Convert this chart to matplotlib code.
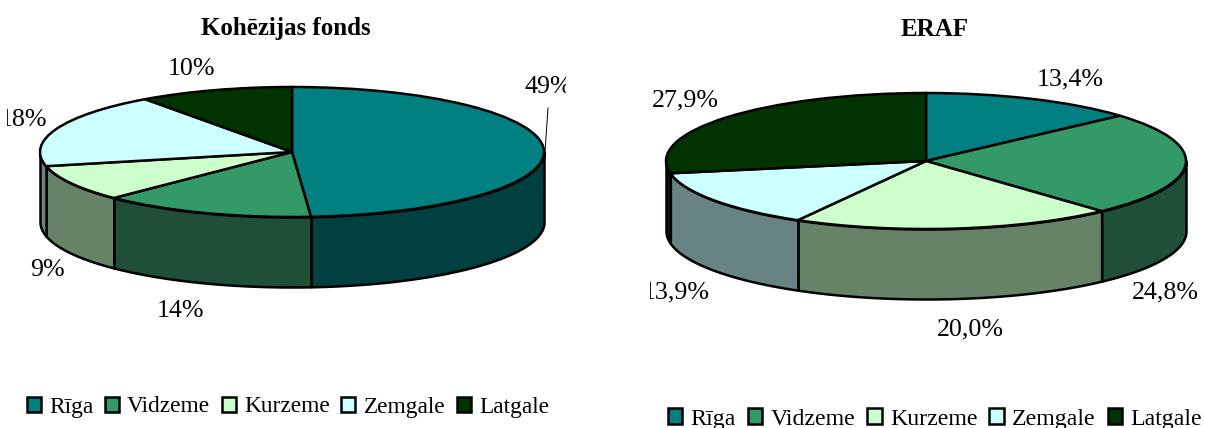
import matplotlib.pyplot as plt
import numpy as np

plt.rcParams["font.family"] = ["Liberation Serif", "DejaVu Serif"]

WIDTH = 1205
HEIGHT = 428

regions = ["Rīga", "Vidzeme", "Kurzeme", "Zemgale", "Latgale"]
top_colors = ["#008080", "#339966", "#ccffcc", "#ccffff", "#003300"]
wall_colors = ["#004040", "#1f4f37", "#678367", "#678384", "#001a00"]

cohesion_values = [48.8, 13.7, 9.0, 18.6, 9.9]
cohesion_labels = ["49%", "14%", "9%", "18%", "10%"]
erdf_values = [13.4, 24.8, 20.0, 13.9, 27.9]
erdf_labels = ["13,4%", "24,8%", "20,0%", "13,9%", "27,9%"]


def draw_pie(fig, values, labels, label_pos, title, title_x, title_y, box, center, radii, depth,
             legend_pos, legend_size):
    left, right, top, bottom = box
    cx, cy = center
    a, b = radii
    ax = fig.add_axes([left / WIDTH, 1 - bottom / HEIGHT, (right - left) / WIDTH, (bottom - top) / HEIGHT])

    # side walls, only the front half of the disc is visible
    shares = np.array(values) / sum(values) * 360
    ends = np.cumsum(shares)
    starts = ends - shares
    for start, end, color in zip(starts, ends, wall_colors):
        lo = max(start, 90)
        hi = min(end, 270)
        if hi <= lo:
            continue
        t = np.radians(np.linspace(lo, hi, 200))
        ax.fill_between(np.sin(t), np.cos(t), np.cos(t) - depth / b, facecolor=color,
                        edgecolor="black", linewidth=1.8)

    wedges, _ = ax.pie(values, startangle=90, counterclock=False, colors=top_colors,
                       wedgeprops={"edgecolor": "black", "linewidth": 1.8})
    ax.set_aspect("auto")
    ax.set_xlim((left - cx) / a, (right - cx) / a)
    ax.set_ylim((cy - bottom) / b, (cy - top) / b)

    # clipped by the axes like in the original
    for label, (px, py) in zip(labels, label_pos):
        ax.text((px - cx) / a, (cy - py) / b, label, ha="center", va="center", fontsize=18.7, clip_on=True)

    fig.text(title_x / WIDTH, 1 - title_y / HEIGHT, title, ha="center", va="center", fontsize=18,
             fontweight="bold")
    ax.legend(wedges, regions, ncol=5, frameon=False, loc="center",
              bbox_to_anchor=(legend_pos[0] / WIDTH, 1 - legend_pos[1] / HEIGHT),
              bbox_transform=fig.transFigure, fontsize=legend_size, handlelength=0.6, handleheight=0.6,
              handletextpad=0.35, columnspacing=0.5, borderpad=0, borderaxespad=0)
    return ax


fig = plt.figure(figsize=(WIDTH / 100, HEIGHT / 100), dpi=100)

ax1 = draw_pie(fig, cohesion_values, cohesion_labels,
               [(548, 87), (180, 311), (47, 270), (23, 120), (191, 69)],
               "Kohēzijas fonds", 286, 29, (7, 566, 50, 330), (292, 152), (252, 65), 70, (288, 407), 16.8)
# leader line of the 49% label
ax1.plot([(545 - 292) / 252, (548 - 292) / 252], [(152 - 152) / 65, (152 - 108) / 65], color="black", linewidth=0.7)

draw_pie(fig, erdf_values, erdf_labels,
         [(1070, 79), (1165, 292), (970, 329), (676, 292), (685, 100)],
         "ERAF", 935, 29, (650, 1205, 50, 345), (926, 161), (260, 68), 70, (935, 419), 17.2)

fig.savefig("out.png", dpi=100)
